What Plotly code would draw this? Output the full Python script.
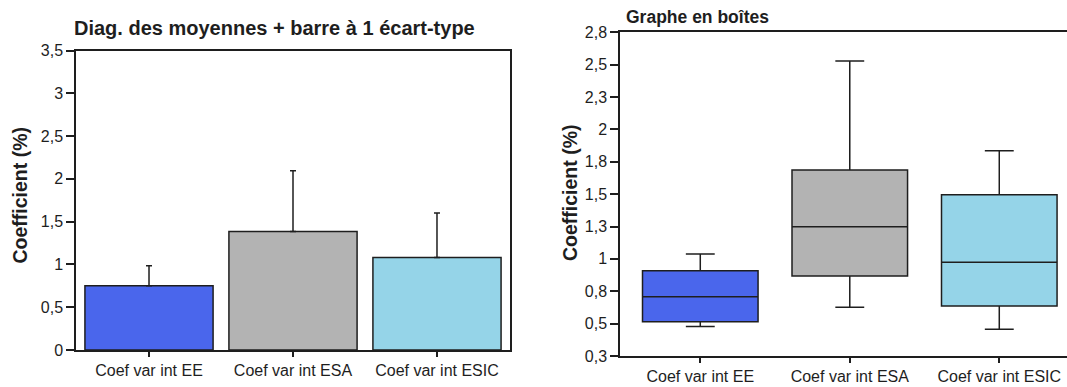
import plotly.graph_objects as go

# ---- data ----
categories = ["Coef var int EE", "Coef var int ESA", "Coef var int ESIC"]
means = [0.75, 1.385, 1.08]
std_devs = [0.235, 0.71, 0.52]
bar_colors = ["#4a66ec", "#b3b3b3", "#95d4e8"]

box_q1 = [0.515, 0.868, 0.637]
box_median = [0.708, 1.249, 0.974]
box_q3 = [0.909, 1.687, 1.496]
box_low = [0.477, 0.626, 0.457]
box_high = [1.038, 2.528, 1.836]

right_tickvals = [0.25, 0.5, 0.75, 1.0, 1.25, 1.5, 1.75, 2.0, 2.25, 2.5, 2.75]
right_ticktext = ["0,3", "0,5", "0,8", "1", "1,3", "1,5", "1,8", "2", "2,3", "2,5", "2,8"]

W, H = 1067, 387
FONT = "Arial, Liberation Sans, sans-serif"
INK = "#1e1e1e"

def px_x(p):
    return p / W

def px_y(p):
    return (H - p) / H

fig = go.Figure()

fig.add_trace(go.Bar(
    x=categories, y=means,
    marker=dict(color=bar_colors, line=dict(color=INK, width=1.5)),
    width=0.89,
    error_y=dict(type="data", array=std_devs, arrayminus=[0] * len(std_devs),
                 symmetric=False, color=INK, thickness=1.5, width=3),
    xaxis="x", yaxis="y", showlegend=False,
))

for i, cat in enumerate(categories):
    fig.add_trace(go.Box(
        x=[cat], q1=[box_q1[i]], median=[box_median[i]], q3=[box_q3[i]],
        lowerfence=[box_low[i]], upperfence=[box_high[i]],
        fillcolor=bar_colors[i], line=dict(color=INK, width=1.5),
        width=0.773, whiskerwidth=0.25, boxpoints=False,
        xaxis="x2", yaxis="y2", showlegend=False,
    ))

axis_common = dict(showgrid=False, zeroline=False, showline=True, linecolor=INK,
                   linewidth=1.5, ticks="outside", tickcolor=INK, tickwidth=1.5,
                   automargin=False,
                   tickfont=dict(family=FONT, size=16, color=INK))

fig.update_layout(
    width=W, height=H,
    margin=dict(l=0, r=0, t=0, b=0, autoexpand=False),
    paper_bgcolor="white", plot_bgcolor="white",
    separators=", ",
    boxmode="overlay",
    xaxis=dict(axis_common, domain=[px_x(76), px_x(510)], range=[-0.507, 2.507],
               mirror=True, ticklen=5, anchor="y"),
    yaxis=dict(axis_common, domain=[px_y(350), px_y(50.5)], range=[0, 3.5],
               dtick=0.5, mirror=True, ticklen=8, anchor="x"),
    xaxis2=dict(axis_common, domain=[px_x(620), 1.0], range=[-0.537, 2.453],
                mirror=True, ticklen=5, anchor="y2"),
    yaxis2=dict(axis_common, domain=[px_y(356), px_y(32.3)], range=[0.25, 2.75],
                tickmode="array", tickvals=right_tickvals, ticktext=right_ticktext,
                ticklen=8, anchor="x2"),
    annotations=[
        dict(text="<b>Diag. des moyennes + barre à 1 écart-type</b>", xref="paper", yref="paper",
             x=px_x(275), y=px_y(28), xanchor="center", yanchor="middle", showarrow=False,
             font=dict(family=FONT, size=20, color=INK)),
        dict(text="<b>Graphe en boîtes</b>", xref="paper", yref="paper",
             x=px_x(624), y=px_y(17), xanchor="left", yanchor="middle", showarrow=False,
             font=dict(family=FONT, size=17.5, color=INK)),
        dict(text="<b>Coefficient (%)</b>", xref="paper", yref="paper", textangle=-90,
             x=px_x(20), y=px_y(195.5), xanchor="center", yanchor="middle", showarrow=False,
             font=dict(family=FONT, size=19.5, color=INK)),
        dict(text="<b>Coefficient (%)</b>", xref="paper", yref="paper", textangle=-90,
             x=px_x(570), y=px_y(193), xanchor="center", yanchor="middle", showarrow=False,
             font=dict(family=FONT, size=19.5, color=INK)),
    ],
)

fig.write_html(
    "out.html",
    config={"displayModeBar": False},
    post_script="document.body.style.margin='0px';"
                "document.body.style.overflow='hidden';"
                "document.documentElement.style.overflow='hidden';",
)
